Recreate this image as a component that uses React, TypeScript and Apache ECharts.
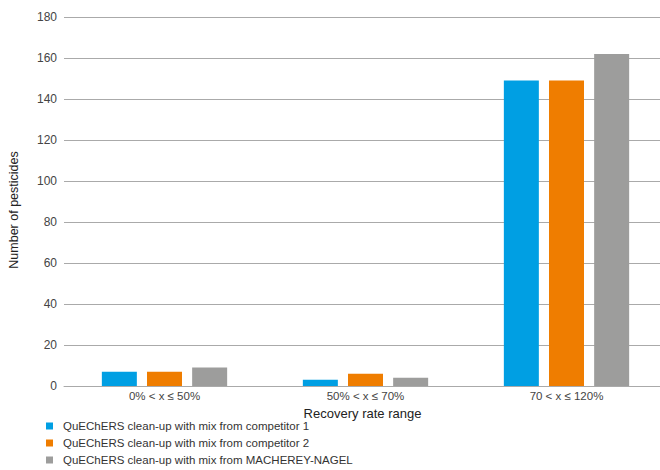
import React, { useEffect, useRef } from "react";
import * as echarts from "echarts";

const categories = ["0% < x ≤ 50%", "50% < x ≤ 70%", "70 < x ≤ 120%"];
const competitor1 = [7, 3, 149];
const competitor2 = [7, 6, 149];
const mn = [9, 4, 162];
const seriesNames = [
  "QuEChERS clean-up with mix from competitor 1",
  "QuEChERS clean-up with mix from competitor 2",
  "QuEChERS clean-up with mix from MACHEREY-NAGEL",
];
const colors = ["#009fe3", "#ef7d00", "#9d9d9c"];
const yAxisTitle = "Number of pesticides";
const xAxisTitle = "Recovery rate range";

export default function App() {
  const ref = useRef<HTMLDivElement>(null);
  useEffect(() => {
    document.body.style.margin = "0";
    document.body.style.overflow = "hidden";
    const chart = echarts.init(ref.current!, undefined, { renderer: "svg" });
    const font = "'Liberation Sans', Arial, sans-serif";
    chart.setOption({
      animation: false,
      textStyle: { fontFamily: font },
      color: colors,
      grid: { left: 64, right: -7, top: 17, bottom: 84, outerBoundsMode: "none" },
      graphic: [
        {
          type: "text",
          x: 14,
          y: 210,
          rotation: Math.PI / 2,
          style: {
            text: yAxisTitle,
            fontSize: 12.5,
            fill: "#222",
            fontFamily: font,
            align: "center",
            verticalAlign: "middle",
          },
        },
      ],
      legend: {
        orient: "vertical",
        left: 41,
        top: 415,
        height: 60,
        icon: "rect",
        itemWidth: 7,
        itemHeight: 7,
        itemGap: 5,
        textStyle: { fontSize: 11.5, color: "#333", fontFamily: font, padding: [0, 0, 0, 5] },
        data: seriesNames,
      },
      xAxis: {
        type: "category",
        data: categories,
        name: xAxisTitle,
        nameLocation: "middle",
        nameGap: 18,
        nameTextStyle: { fontSize: 13, color: "#222", fontFamily: font, padding: [0, 6, 0, 0] },
        axisLine: { lineStyle: { color: "#aaa" } },
        axisTick: { show: false },
        axisLabel: { fontSize: 11.5, color: "#444", margin: 4, fontFamily: font },
      },
      yAxis: {
        type: "value",
        min: 0,
        max: 180,
        interval: 20,
        axisLine: { show: false },
        axisTick: { show: false },
        axisLabel: { fontSize: 12, color: "#444", margin: 7, fontFamily: font },
        splitLine: { lineStyle: { color: "#aaa", width: 1 } },
      },
      series: [competitor1, competitor2, mn].map((d, i) => ({
        type: "bar",
        name: seriesNames[i],
        data: d,
        barWidth: 35,
        barGap: "29%",
        itemStyle: { color: colors[i] },
      })),
    });
    return () => chart.dispose();
  }, []);
  return <div ref={ref} style={{ width: 660, height: 470, overflow: "hidden" }} />;
}
